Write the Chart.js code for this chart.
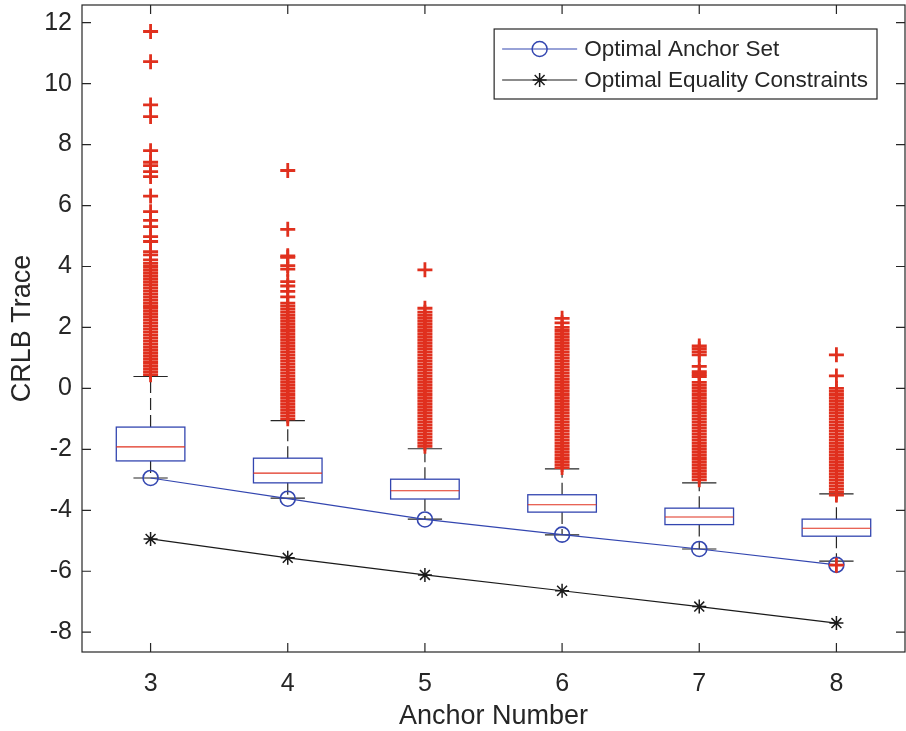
<!DOCTYPE html>
<html>
<head>
<meta charset="utf-8">
<script src="https://cdn.jsdelivr.net/npm/chart.js@4.4.1/dist/chart.umd.min.js"></script>
<style>
  body { margin: 0; background: #fff; }
  #wrap { width: 906px; height: 731px; position: relative; }
</style>
</head>
<body>
<div id="wrap"><canvas id="crlb"></canvas></div>
<script>
// anchor counts and axis ticks
const anchors = [3, 4, 5, 6, 7, 8];
const xTicks = [3, 4, 5, 6, 7, 8];
const yTicks = [-8, -6, -4, -2, 0, 2, 4, 6, 8, 10, 12];

// box statistics
const q1 = [-2.38, -3.10, -3.63, -4.06, -4.47, -4.85];
const median = [-1.92, -2.78, -3.36, -3.82, -4.22, -4.59];
const q3 = [-1.27, -2.29, -2.98, -3.49, -3.93, -4.29];
const whiskerLow = [-2.94, -3.60, -4.29, -4.81, -5.27, -5.67];
const whiskerHigh = [0.39, -1.06, -1.98, -2.64, -3.10, -3.46];

// outliers per anchor count
const out3 = [0.45, 0.55, 0.65, 0.75, 0.85, 0.95, 1.05, 1.15, 1.25, 1.35, 1.45, 1.55, 1.65,
  1.75, 1.85, 1.95, 2.05, 2.15, 2.25, 2.35, 2.45, 2.55, 2.65, 2.71, 2.8, 2.9, 3.0, 3.1, 3.2,
  3.3, 3.4, 3.5, 3.6, 3.7, 3.8, 3.9, 4.0, 4.1, 4.22, 4.38, 4.49, 4.82, 4.98, 5.31, 5.51, 5.80,
  6.31, 6.95, 7.11, 7.31, 7.42, 7.8, 8.92, 9.3, 10.72, 11.71];
const out4 = [-1.0, -0.9, -0.8, -0.7, -0.6, -0.5, -0.4, -0.3, -0.2, -0.1, 0.0, 0.1, 0.2, 0.3,
  0.4, 0.5, 0.6, 0.7, 0.8, 0.9, 1.0, 1.1, 1.2, 1.3, 1.4, 1.5, 1.6, 1.7, 1.8, 1.9, 2.0, 2.1,
  2.2, 2.3, 2.4, 2.5, 2.6, 2.7, 2.8, 3.0, 3.18, 3.36, 3.5, 3.91, 4.03, 4.3, 4.35, 5.22, 7.15];
const out5 = [-1.9, -1.8, -1.7, -1.6, -1.5, -1.4, -1.3, -1.2, -1.1, -1.0, -0.9, -0.8, -0.7,
  -0.6, -0.5, -0.4, -0.3, -0.2, -0.1, 0.0, 0.1, 0.2, 0.3, 0.4, 0.5, 0.6, 0.7, 0.8, 0.9, 1.0,
  1.1, 1.2, 1.3, 1.4, 1.5, 1.6, 1.7, 1.8, 1.9, 2.0, 2.1, 2.2, 2.3, 2.4, 2.5, 2.63, 3.89];
const out6 = [-2.6, -2.5, -2.4, -2.3, -2.2, -2.1, -2.0, -1.9, -1.8, -1.7, -1.6, -1.5, -1.4,
  -1.3, -1.2, -1.1, -1.0, -0.9, -0.8, -0.7, -0.6, -0.5, -0.4, -0.3, -0.2, -0.1, 0.0, 0.1,
  0.2, 0.3, 0.4, 0.5, 0.6, 0.7, 0.8, 0.9, 1.0, 1.1, 1.2, 1.3, 1.4, 1.5, 1.6, 1.7, 1.8, 1.9,
  2.0, 2.15, 2.30];
const out7 = [-3.0, -2.9, -2.8, -2.7, -2.6, -2.5, -2.4, -2.3, -2.2, -2.1, -2.0, -1.9, -1.8,
  -1.7, -1.6, -1.5, -1.4, -1.3, -1.2, -1.1, -1.0, -0.9, -0.8, -0.7, -0.6, -0.5, -0.4, -0.3,
  -0.2, -0.1, 0.0, 0.1, 0.2, 0.39, 0.47, 0.55, 0.72, 1.1, 1.2, 1.3, 1.39];
const out8 = [-3.5, -3.4, -3.3, -3.2, -3.1, -3.0, -2.9, -2.8, -2.7, -2.6, -2.5, -2.4, -2.3,
  -2.2, -2.1, -2.0, -1.9, -1.8, -1.7, -1.6, -1.5, -1.4, -1.3, -1.2, -1.1, -1.0, -0.9, -0.8,
  -0.7, -0.6, -0.5, -0.4, -0.3, -0.2, -0.1, 0.0, 0.41, 1.10, -5.80];
const outliers = [out3, out4, out5, out6, out7, out8];

// the two reference curves
const anchorSet = [-2.94, -3.62, -4.30, -4.80, -5.27, -5.79];
const equalityConstraints = [-4.94, -5.56, -6.12, -6.64, -7.16, -7.70];

const BLUE = '#3346b0';
const RED = '#e0301e';
const INK = '#262626';
const FONT = "'Liberation Sans', Arial, Helvetica, sans-serif";
const boxWidth = 0.5;

let outlierPoints = [];
outliers.forEach((list, i) => {
    list.forEach(v => outlierPoints.push({ x: anchors[i], y: v }));
});

// boxes, whiskers and medians, placed through the chart scales
const boxPlugin = {
    id: 'boxes',
    beforeDatasetsDraw(chart) {
        const ctx = chart.ctx;
        const x = chart.scales.x, y = chart.scales.y;
        ctx.save();
        anchors.forEach((a, i) => {
            const xc = x.getPixelForValue(a);
            const hw = x.getPixelForValue(a + boxWidth / 2) - xc;
            const top = y.getPixelForValue(q3[i]);
            const bot = y.getPixelForValue(q1[i]);
            const wHi = y.getPixelForValue(whiskerHigh[i]);
            const wLo = y.getPixelForValue(whiskerLow[i]);

            ctx.strokeStyle = INK;
            ctx.lineWidth = 1.2;
            ctx.setLineDash([12, 5]);
            ctx.beginPath();
            ctx.moveTo(xc, top); ctx.lineTo(xc, wHi);
            ctx.moveTo(xc, bot); ctx.lineTo(xc, wLo);
            ctx.stroke();
            ctx.setLineDash([]);

            // caps
            ctx.beginPath();
            ctx.moveTo(xc - hw / 2, wHi); ctx.lineTo(xc + hw / 2, wHi);
            ctx.moveTo(xc - hw / 2, wLo); ctx.lineTo(xc + hw / 2, wLo);
            ctx.stroke();

            // box
            ctx.strokeStyle = BLUE;
            ctx.lineWidth = 1.3;
            ctx.strokeRect(xc - hw, top, 2 * hw, bot - top);

            // median
            const m = y.getPixelForValue(median[i]);
            ctx.strokeStyle = RED;
            ctx.lineWidth = 1.1;
            ctx.beginPath();
            ctx.moveTo(xc - hw, m); ctx.lineTo(xc + hw, m);
            ctx.stroke();
        });
        ctx.restore();
    }
};

// frame with inward ticks on all four sides
const framePlugin = {
    id: 'frame',
    afterDatasetsDraw(chart) {
        const ctx = chart.ctx;
        const a = chart.chartArea;
        const x = chart.scales.x, y = chart.scales.y;
        const len = 9;
        ctx.save();
        ctx.strokeStyle = INK;
        ctx.lineWidth = 1.2;
        ctx.strokeRect(a.left, a.top, a.right - a.left, a.bottom - a.top);
        ctx.beginPath();
        xTicks.forEach(v => {
            const px = x.getPixelForValue(v);
            ctx.moveTo(px, a.bottom); ctx.lineTo(px, a.bottom - len);
            ctx.moveTo(px, a.top); ctx.lineTo(px, a.top + len);
        });
        yTicks.forEach(v => {
            const py = y.getPixelForValue(v);
            ctx.moveTo(a.left, py); ctx.lineTo(a.left + len, py);
            ctx.moveTo(a.right, py); ctx.lineTo(a.right - len, py);
        });
        ctx.stroke();
        ctx.restore();
    }
};

function drawMarker(ctx, style, cx, cy, r, color) {
    ctx.strokeStyle = color;
    ctx.lineWidth = 1.5;
    ctx.beginPath();
    if (style === 'circle') {
        ctx.arc(cx, cy, r, 0, Math.PI * 2);
    } else {
        for (let k = 0; k < 4; k++) {
            const ang = k * Math.PI / 4;
            ctx.moveTo(cx - r * Math.cos(ang), cy - r * Math.sin(ang));
            ctx.lineTo(cx + r * Math.cos(ang), cy + r * Math.sin(ang));
        }
    }
    ctx.stroke();
}

// legend box inside the top right of the plot
const legendPlugin = {
    id: 'boxLegend',
    afterDraw(chart) {
        const ctx = chart.ctx;
        const a = chart.chartArea;
        const items = chart.data.datasets.filter(d => d.showInLegend);
        ctx.save();
        ctx.font = '22.5px ' + FONT;
        let tw = 0;
        items.forEach(d => { tw = Math.max(tw, ctx.measureText(d.label).width); });
        const sample = 75, padL = 8, gap = 7, padR = 9, rowH = 31;
        const w = padL + sample + gap + tw + padR;
        const h = 70;
        const right = a.right - 28;
        const left = right - w;
        const top = a.top + 24;
        ctx.fillStyle = '#fff';
        ctx.fillRect(left, top, w, h);
        ctx.strokeStyle = INK;
        ctx.lineWidth = 1.2;
        ctx.strokeRect(left, top, w, h);
        items.forEach((d, i) => {
            const cy = top + 20 + i * rowH;
            ctx.strokeStyle = d.borderColor;
            ctx.lineWidth = 1.2;
            ctx.beginPath();
            ctx.moveTo(left + padL, cy);
            ctx.lineTo(left + padL + sample, cy);
            ctx.stroke();
            drawMarker(ctx, d.pointStyle, left + padL + sample / 2, cy, d.pointRadius, d.borderColor);
            ctx.fillStyle = INK;
            ctx.textBaseline = 'middle';
            ctx.textAlign = 'left';
            ctx.fillText(d.label, left + padL + sample + gap, cy + 1);
        });
        ctx.restore();
    }
};

new Chart(document.getElementById('crlb'), {
    type: 'scatter',
    data: {
        datasets: [
            {
                label: 'Optimal Anchor Set',
                type: 'line',
                showInLegend: true,
                data: anchors.map((a, i) => ({ x: a, y: anchorSet[i] })),
                borderColor: BLUE,
                backgroundColor: 'rgba(0,0,0,0)',
                borderWidth: 1.2,
                pointStyle: 'circle',
                pointRadius: 7.5,
                pointBorderWidth: 1.6,
                pointBackgroundColor: 'rgba(0,0,0,0)',
                tension: 0,
                order: 2
            },
            {
                label: 'Optimal Equality Constraints',
                type: 'line',
                showInLegend: true,
                data: anchors.map((a, i) => ({ x: a, y: equalityConstraints[i] })),
                borderColor: '#1a1a1a',
                backgroundColor: 'rgba(0,0,0,0)',
                borderWidth: 1.2,
                pointStyle: 'star',
                pointRadius: 7,
                pointBorderWidth: 1.5,
                tension: 0,
                order: 2
            },
            {
                label: 'outliers',
                data: outlierPoints,
                borderColor: RED,
                backgroundColor: RED,
                pointStyle: 'cross',
                pointRadius: 7.5,
                pointBorderWidth: 2.8,
                order: 1
            }
        ]
    },
    options: {
        responsive: true,
        maintainAspectRatio: false,
        animation: false,
        layout: { autoPadding: false, padding: { top: 5, right: 1, left: 0, bottom: 0 } },
        plugins: {
            legend: { display: false },
            tooltip: { enabled: false }
        },
        scales: {
            x: {
                type: 'linear',
                min: 2.5,
                max: 8.5,
                afterBuildTicks: s => { s.ticks = xTicks.map(v => ({ value: v })); },
                afterFit: s => {
                    s.height = 79;
                    s.paddingLeft = 0;
                    s.paddingRight = 0;
                },
                grid: { display: false, drawTicks: false },
                border: { display: false },
                ticks: {
                    color: INK,
                    font: { family: FONT, size: 25 },
                    padding: 17,
                    callback: v => String(v)
                },
                title: {
                    display: true,
                    text: 'Anchor Number',
                    color: INK,
                    font: { family: FONT, size: 27, lineHeight: 1.05 },
                    padding: { top: 0, bottom: 0 }
                }
            },
            y: {
                min: -8.65,
                max: 12.58,
                afterBuildTicks: s => { s.ticks = yTicks.map(v => ({ value: v })); },
                afterFit: s => {
                    s.width = 82;
                    s.paddingTop = 0;
                    s.paddingBottom = 0;
                },
                grid: { display: false, drawTicks: false },
                border: { display: false },
                ticks: {
                    color: INK,
                    font: { family: FONT, size: 25 },
                    padding: 10,
                    callback: v => String(v)
                },
                title: {
                    display: true,
                    text: 'CRLB Trace',
                    color: INK,
                    font: { family: FONT, size: 27 },
                    padding: { top: 6, bottom: 0 }
                }
            }
        }
    },
    plugins: [boxPlugin, framePlugin, legendPlugin]
});
</script>
</body>
</html>
